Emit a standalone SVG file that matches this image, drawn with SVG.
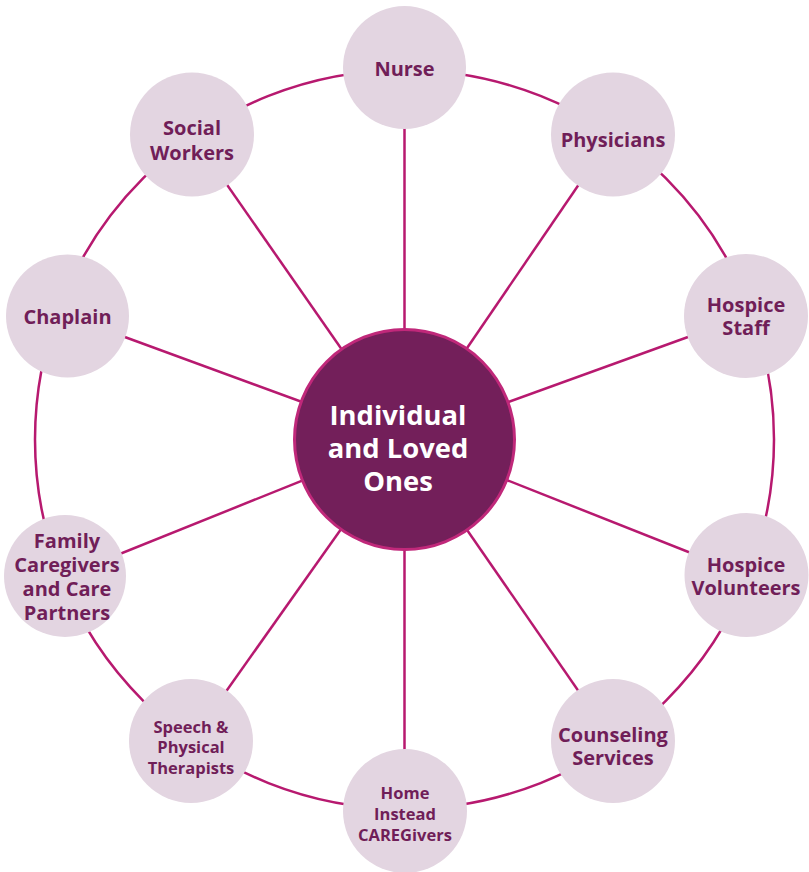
<svg xmlns="http://www.w3.org/2000/svg" width="809" height="872" viewBox="0 0 809 872">
<style>
.ring{fill:none;stroke:#B7196F;stroke-width:2.5}
.spoke{stroke:#B7196F;stroke-width:2.5}
.sat{fill:#E3D5E1}
.hub{fill:#731F5A;stroke:#C0287A;stroke-width:3}
.t{font-family:"Open Sans","Noto Sans","Liberation Sans",sans-serif;font-weight:700;fill:#701E58;text-anchor:middle;font-size:20px}
.ts{font-size:16.5px}
.tc{fill:#FFFFFF;font-size:27.4px}
</style>
<rect width="809" height="872" fill="#FFFFFF"/>
<g id="connectors">
<circle class="ring" cx="404.5" cy="439.5" r="369.5"/>
<line class="spoke" x1="404.5" y1="439.5" x2="404.5" y2="67.5"/>
<line class="spoke" x1="404.5" y1="439.5" x2="613" y2="134.5"/>
<line class="spoke" x1="404.5" y1="439.5" x2="746" y2="316"/>
<line class="spoke" x1="404.5" y1="439.5" x2="746.5" y2="575"/>
<line class="spoke" x1="404.5" y1="439.5" x2="613" y2="741"/>
<line class="spoke" x1="404.5" y1="439.5" x2="404.5" y2="811"/>
<line class="spoke" x1="404.5" y1="439.5" x2="191" y2="741"/>
<line class="spoke" x1="404.5" y1="439.5" x2="65" y2="576"/>
<line class="spoke" x1="404.5" y1="439.5" x2="67.5" y2="316"/>
<line class="spoke" x1="404.5" y1="439.5" x2="192" y2="134.5"/>
</g>
<g id="center">
<circle class="hub" cx="404.5" cy="439.5" r="110"/>
<text class="t tc" x="404.5"><tspan x="398" y="425">Individual</tspan><tspan x="398" y="458">and Loved</tspan><tspan x="398" y="491">Ones</tspan></text>
</g>
<g id="nurse">
<circle class="sat" cx="404.5" cy="67.5" r="61.5"/>
<text class="t" x="404.5" y="76">Nurse</text>
</g>
<g id="physicians">
<circle class="sat" cx="613" cy="134.5" r="62"/>
<text class="t" x="613" y="147">Physicians</text>
</g>
<g id="hospice-staff">
<circle class="sat" cx="746" cy="316" r="62"/>
<text class="t"><tspan x="746" y="312">Hospice</tspan><tspan x="746" y="335">Staff</tspan></text>
</g>
<g id="hospice-volunteers">
<circle class="sat" cx="746.5" cy="575" r="62"/>
<text class="t"><tspan x="746" y="572">Hospice</tspan><tspan x="746" y="595">Volunteers</tspan></text>
</g>
<g id="counseling">
<circle class="sat" cx="613" cy="741" r="62"/>
<text class="t"><tspan x="613" y="742">Counseling</tspan><tspan x="613" y="765">Services</tspan></text>
</g>
<g id="home-instead">
<circle class="sat" cx="405" cy="811" r="62"/>
<text class="t ts"><tspan x="405" y="799">Home</tspan><tspan x="405" y="820">Instead</tspan><tspan x="405" y="841">CAREGivers</tspan></text>
</g>
<g id="speech">
<circle class="sat" cx="191" cy="741" r="62"/>
<text class="t ts"><tspan x="191" y="733">Speech &amp;</tspan><tspan x="191" y="753">Physical</tspan><tspan x="191" y="774">Therapists</tspan></text>
</g>
<g id="family">
<circle class="sat" cx="65" cy="576" r="61"/>
<text class="t"><tspan x="67" y="548">Family</tspan><tspan x="67" y="572">Caregivers</tspan><tspan x="67" y="596">and Care</tspan><tspan x="67" y="620">Partners</tspan></text>
</g>
<g id="chaplain">
<circle class="sat" cx="67.5" cy="316" r="61.5"/>
<text class="t" x="67.5" y="324">Chaplain</text>
</g>
<g id="social-workers">
<circle class="sat" cx="192" cy="134.5" r="62"/>
<text class="t"><tspan x="192" y="135">Social</tspan><tspan x="192" y="160">Workers</tspan></text>
</g>
</svg>
